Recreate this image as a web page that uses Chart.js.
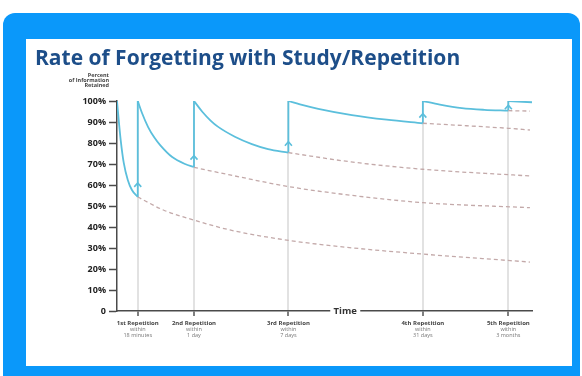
<!DOCTYPE html>
<html>
<head>
<meta charset="utf-8">
<script src="https://cdn.jsdelivr.net/npm/chart.js@4"></script>
<style>
  html, body { margin: 0; padding: 0; background: #fff; }
  body { position: relative; width: 582px; height: 376px; overflow: hidden; }
  #marco { position: absolute; left: 3px; top: 13px; width: 577px; height: 380px; background: #0a98fa; border-radius: 12px; }
  #panel { position: absolute; left: 26px; top: 39px; width: 546px; height: 327px; background: #fff; }
  #grafico { position: absolute; left: 0; top: 0; }
</style>
</head>
<body>
<div id="marco"></div>
<div id="panel"></div>
<canvas id="grafico" width="582" height="376"></canvas>
<script>
// datos (eje x sin unidades, 0-100)
const titulo = 'Rate of Forgetting with Study/Repetition';
const tituloY = ['Percent', 'of Information', 'Retained'];
const repX = [5, 18.55, 41.3, 73.7, 94.3];
const repEtiquetas = [
  ['1st Repetition', 'within', '18 minutes'],
  ['2nd Repetition', 'within', '1 day'],
  ['3rd Repetition', 'within', '7 days'],
  ['4th Repetition', 'within', '31 days'],
  ['5th Repetition', 'within', '3 months']
];
const flechaEn = [61, 74, 80.6, 94, 98];

// curvas de olvido (linea continua)
const curva1 = [[0, 100], [0.41, 91], [0.89, 81.4], [1.63, 70.5], [2.6, 62.4], [3.6, 57.6], [5, 54.3]];
const curva2 = [[5, 100], [6, 94.4], [7.5, 87.6], [9, 82.6], [10.4, 79], [13.3, 73.3], [16.4, 70], [18.55, 68.6]];
const curva3 = [[18.55, 100], [20.55, 94.9], [22.55, 90.7], [24.3, 87.8], [28.4, 83], [32.5, 79.5], [36.4, 77.1], [41.3, 75.4]];
const curva4 = [[41.3, 100], [44.1, 98.4], [48.5, 96.3], [56.6, 93.3], [65, 91.1], [73.7, 89.4]];
const curva5 = [[73.7, 100], [77.8, 98.3], [83.1, 96.6], [88.5, 95.8], [94.3, 95.4]];
const curva6 = [[94.3, 100], [100, 99.4]];

// sin repeticion (discontinuas)
const sinRep1 = [[5, 54.3], [11.16, 48.1], [18.55, 43.3], [27.2, 38.6], [41.5, 33.6], [56, 30.2], [73.7, 27.1], [99.5, 23.3]];
const sinRep2 = [[18.55, 68.4], [27.2, 64.8], [41.5, 59.2], [56, 55.2], [73.7, 51.6], [99.5, 49.2]];
const sinRep3 = [[41.3, 75.4], [56.4, 71], [73.7, 67.5], [99.5, 64.3]];
const sinRep4 = [[73.7, 89.4], [94.3, 87], [99.5, 86.2]];
const sinRep5 = [[94.3, 95.4], [99.5, 95.2]];

const yTicks = [0, 10, 20, 30, 40, 50, 60, 70, 80, 90, 100];

const turquesa = '#5bbfdc';
const rosado = '#c3a9a9';

function puntos(lista) {
  return lista.map(p => ({ x: p[0], y: p[1] }));
}

var datasets = [];
[sinRep1, sinRep2, sinRep3, sinRep4, sinRep5].forEach(c => {
  datasets.push({
    data: puntos(c), borderColor: rosado, borderWidth: 1.3, borderDash: [4, 3],
    pointRadius: 0, cubicInterpolationMode: 'monotone', fill: false
  });
});
[curva1, curva2, curva3, curva4, curva5, curva6].forEach(c => {
  datasets.push({
    data: puntos(c), borderColor: turquesa, borderWidth: 1.8,
    pointRadius: 0, cubicInterpolationMode: 'monotone', fill: false
  });
});
// saltos verticales en cada repeticion
repX.forEach((v, i) => {
  const fin = [curva1, curva2, curva3, curva4, curva5][i];
  datasets.push({
    data: [{ x: v, y: fin[fin.length - 1][1] }, { x: v, y: 100 }],
    borderColor: turquesa, borderWidth: 1.8, pointRadius: 0, tension: 0
  });
});

const extras = {
  id: 'extras',
  afterDraw(chart) {
    const ctx = chart.ctx, xs = chart.scales.x, ys = chart.scales.y;
    ctx.save();
    // titulo
    ctx.fillStyle = '#1d4e89';
    ctx.font = 'bold 21px "Open Sans"';
    ctx.textAlign = 'left';
    ctx.textBaseline = 'alphabetic';
    ctx.fillText(titulo, 35, 65);
    // titulo eje y
    ctx.fillStyle = '#444';
    ctx.font = 'bold 5.5px "Open Sans"';
    ctx.textAlign = 'right';
    tituloY.forEach((t, i) => ctx.fillText(t, 109, 77 + i * 5));
    // flechas
    ctx.strokeStyle = turquesa;
    ctx.lineWidth = 1.6;
    repX.forEach((v, i) => {
      const px = xs.getPixelForValue(v), py = ys.getPixelForValue(flechaEn[i]);
      ctx.beginPath();
      ctx.moveTo(px - 3.5, py + 4);
      ctx.lineTo(px, py);
      ctx.lineTo(px + 3.5, py + 4);
      ctx.stroke();
    });
    // etiquetas eje x
    ctx.textAlign = 'center';
    ctx.textBaseline = 'middle';
    repX.forEach((v, i) => {
      const px = xs.getPixelForValue(v);
      const e = repEtiquetas[i];
      ctx.fillStyle = '#444';
      ctx.font = 'bold 6px "Open Sans"';
      ctx.fillText(e[0], px, ys.bottom + 12);
      ctx.fillStyle = '#777';
      ctx.font = '5.5px "Open Sans"';
      ctx.fillText(e[1], px, ys.bottom + 18);
      ctx.fillText(e[2], px, ys.bottom + 24);
    });
    // "Time" sobre el eje
    const tx = xs.left + 0.55 * (xs.right - xs.left);
    ctx.fillStyle = '#fff';
    ctx.fillRect(tx - 15, ys.bottom - 4, 30, 8);
    ctx.fillStyle = '#333';
    ctx.font = 'bold 9.5px "Open Sans"';
    ctx.fillText('Time', tx, ys.bottom + 0.5);
    ctx.restore();
  }
};

var chart = new Chart(document.getElementById('grafico').getContext('2d'), {
  type: 'line',
  data: { datasets: datasets },
  plugins: [extras],
  options: {
    responsive: false,
    animation: false,
    layout: { padding: { top: 101, left: 0, right: 50, bottom: 0 } },
    plugins: { legend: { display: false }, tooltip: { enabled: false } },
    scales: {
      x: {
        type: 'linear', min: 0, max: 100,
        afterBuildTicks: s => { s.ticks = repX.map(v => ({ value: v })); },
        afterFit: s => { s.height = 65; },
        grid: { color: '#e2e2e2', lineWidth: 2, tickColor: '#555', tickWidth: 1.5, tickLength: 5 },
        border: { color: '#4a4a4a', width: 1.5 },
        ticks: { display: false, autoSkip: false }
      },
      y: {
        min: 0, max: 100,
        afterBuildTicks: s => { s.ticks = yTicks.map(v => ({ value: v })); },
        afterFit: s => { s.width = 117; },
        grid: { drawOnChartArea: false, tickColor: '#4a4a4a', tickWidth: 1.5, tickLength: 8 },
        border: { color: '#4a4a4a', width: 1.5 },
        ticks: {
          padding: 3, color: '#222',
          font: { family: 'Open Sans', size: 9, weight: 'bold' },
          callback: v => v === 0 ? '0' : v + '%'
        }
      }
    }
  }
});
</script>
</body>
</html>
